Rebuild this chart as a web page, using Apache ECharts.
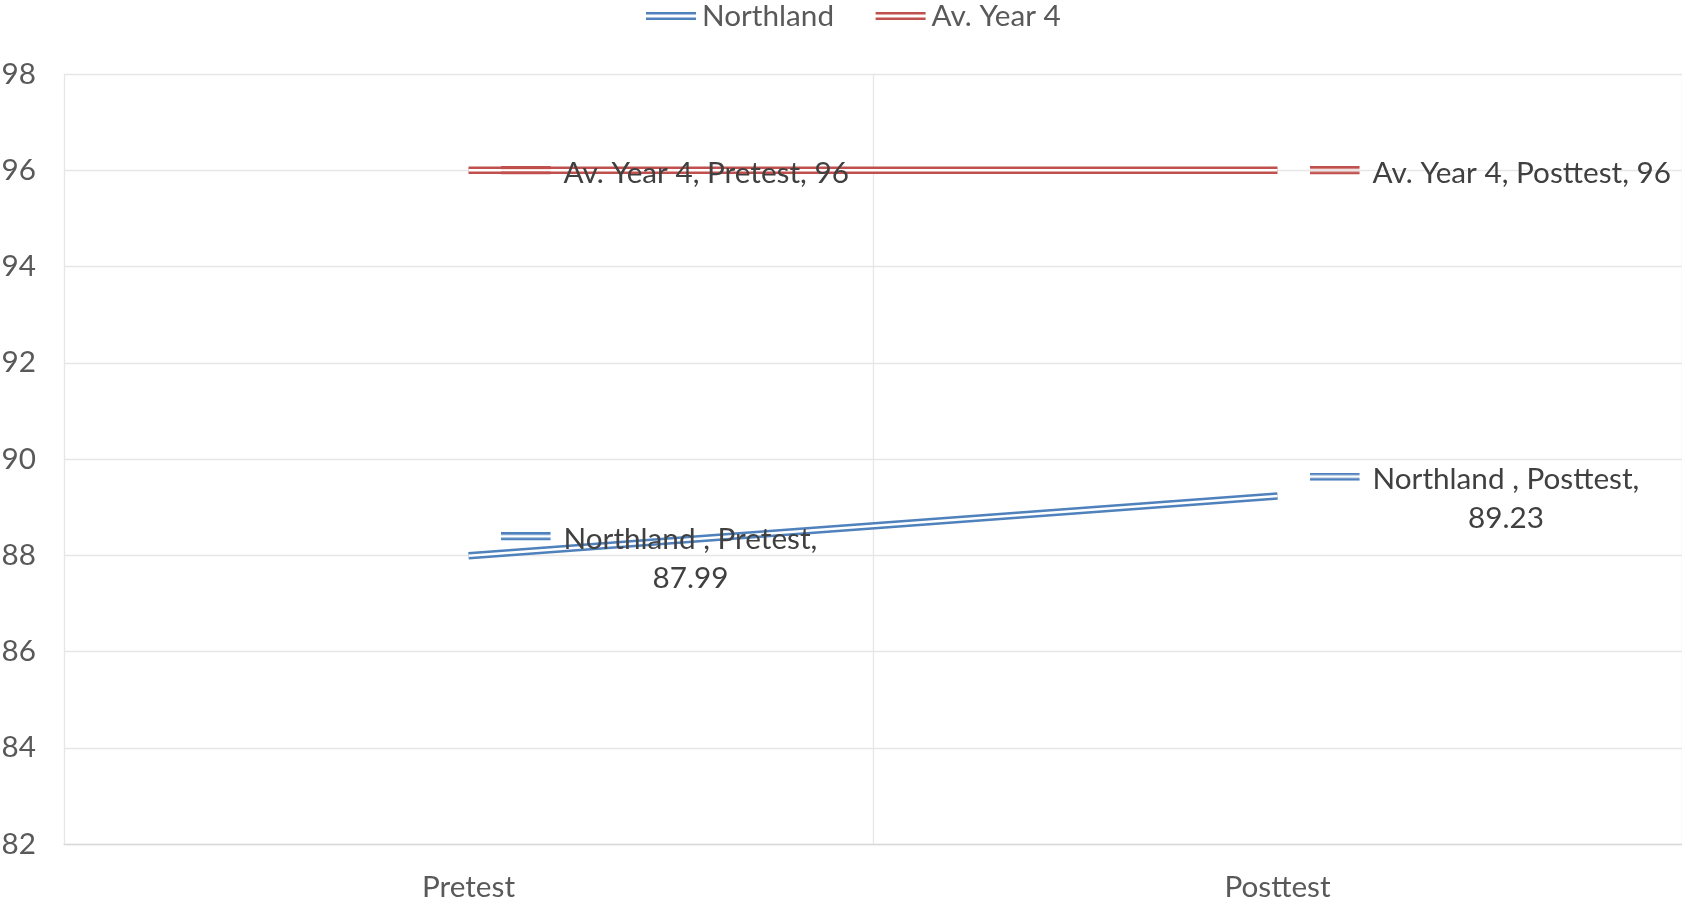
<!DOCTYPE html>
<html>
<head>
<meta charset="utf-8">
<script src="https://cdn.jsdelivr.net/npm/echarts@6/dist/echarts.min.js"></script>
<style>
  html, body { margin: 0; padding: 0; background: #fff; }
  #chart { width: 1682px; height: 902px; }
</style>
</head>
<body>
<div id="chart"></div>
<script>
// Chart data
const categories = ['Pretest', 'Posttest'];
const seriesNames = ['Northland ', 'Av. Year 4'];
const northland = [87.99, 89.23];
const avYear4 = [96, 96];
const yMin = 82, yMax = 98, yStep = 2;

const BLUE = '#4F81BD';
const RED = '#C0504D';
const FONT = 'Lato, "Liberation Sans", sans-serif';
const FS = 29.7;

// Small double-line legend key drawn into a canvas, used inside data labels.
// The lines sit in the upper part so the key rides slightly above the text middle.
function keyCanvas(color) {
  const c = document.createElement('canvas');
  c.width = 63; c.height = 14;
  const g = c.getContext('2d');
  g.fillStyle = color;
  g.fillRect(0, 0, 50, 2.6);
  g.fillRect(0, 5.4, 50, 2.6);
  return c;
}

function makeLabel(color, wrap) {
  return {
    show: true,
    position: 'right',
    distance: 32,
    offset: [0, 3],
    color: '#404040',
    fontFamily: FONT,
    fontSize: FS,
    lineHeight: 39,
    formatter: function (p) {
      const name = p.seriesName.replace(/-dbl$/, '');
      if (wrap) {
        return '{k|}{t|' + name + ', ' + p.name + ',}\n{p|}{t|' + p.value + '}';
      }
      return '{k|}{t|' + name + ', ' + p.name + ', ' + p.value + '}';
    },
    rich: {
      k: { width: 63, height: 14, align: 'center', backgroundColor: { image: keyCanvas(color) } },
      p: { width: 63, height: 14, align: 'center' },
      t: { align: 'center', color: '#404040', fontFamily: FONT, fontSize: FS, lineHeight: 39 }
    }
  };
}

// Each series is drawn as a wide coloured stroke with a thin white stroke on top,
// giving a double line.
function doubleLine(name, data, color, wrap) {
  return [
    {
      name: name, type: 'line', data: data, color: color,
      symbol: 'none', silent: true, z: 2,
      lineStyle: { color: color, width: 7.5 }
    },
    {
      name: name + '-dbl', type: 'line', data: data,
      symbol: 'circle', symbolSize: 0.1, silent: true, z: 3,
      itemStyle: { color: '#ffffff' },
      lineStyle: { color: '#ffffff', width: 2.5 },
      label: makeLabel(color, wrap)
    }
  ];
}

const keyPath = 'path://M0,0H50V2.6H0Z M0,5.4H50V8H0Z';

const chart = echarts.init(document.getElementById('chart'), null, { renderer: 'canvas' });
chart.setOption({
  animation: false,
  backgroundColor: '#ffffff',
  textStyle: { fontFamily: FONT },
  legend: {
    top: -1,
    left: 646,
    padding: 0,
    itemWidth: 50,
    itemHeight: 8,
    itemGap: 34,
    data: [
      { name: seriesNames[0], icon: keyPath },
      { name: seriesNames[1], icon: keyPath }
    ],
    textStyle: { color: '#595959', fontSize: FS, fontFamily: FONT, lineHeight: 32, padding: [2, 0, 0, 1] }
  },
  grid: { left: 64, right: 0, top: 74, bottom: 58, containLabel: false, outerBoundsMode: 'none' },
  xAxis: {
    type: 'category',
    data: categories,
    boundaryGap: true,
    axisLine: { show: true, lineStyle: { color: '#d9d9d9', width: 1.3 } },
    axisTick: { show: false },
    splitLine: { show: true, lineStyle: { color: '#e6e6e6', width: 1.3 } },
    axisLabel: { color: '#595959', fontSize: FS, fontFamily: FONT, margin: 28 }
  },
  yAxis: {
    type: 'value',
    min: yMin, max: yMax, interval: yStep,
    axisLine: { show: false },
    axisTick: { show: false },
    splitLine: { show: true, lineStyle: { color: '#e6e6e6', width: 1.3 } },
    axisLabel: { color: '#595959', fontSize: FS, fontFamily: FONT, margin: 28, padding: [9, 0, 0, 0] }
  },
  series: [].concat(
    doubleLine(seriesNames[0], northland, BLUE, true),
    doubleLine(seriesNames[1], avYear4, RED, false)
  )
});
</script>
</body>
</html>
